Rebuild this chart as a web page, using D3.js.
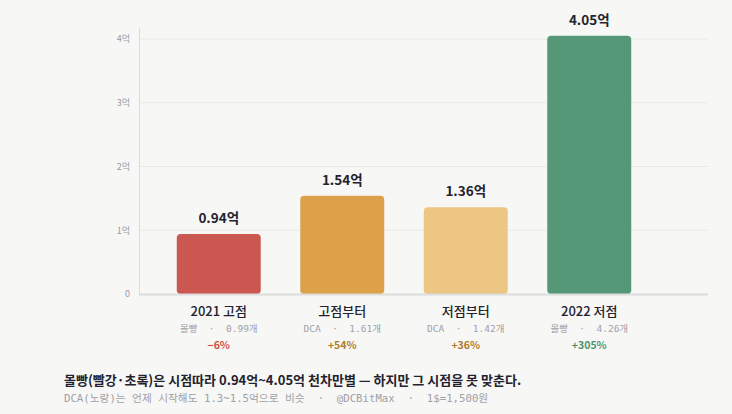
<!DOCTYPE html>
<html>
<head>
<meta charset="utf-8">
<script src="https://cdn.jsdelivr.net/npm/d3@7/dist/d3.min.js"></script>
<style>
  html, body { margin: 0; padding: 0; background: #f7f7f5; }
  svg { display: block; }
</style>
</head>
<body>
<svg id="chart" width="732" height="414"></svg>
<script>
// Data
const categories = ["2021 고점", "고점부터", "저점부터", "2022 저점"];
const values = [0.94, 1.54, 1.36, 4.05];
const subLabels = ["몰빵  ·  0.99개", "DCA  ·  1.61개", "DCA  ·  1.42개", "몰빵  ·  4.26개"];
const returns = ["−6%", "+54%", "+36%", "+305%"];
const yTicks = [0, 1, 2, 3, 4];

const barColors = ["#cb5751", "#dda249", "#eec683", "#549878"];
const returnColors = ["#cf4f48", "#b07a2c", "#b07a2c", "#4f9270"];

const sans = "'Noto Sans CJK KR', 'Noto Sans', sans-serif";
const mono = "'DejaVu Sans Mono', 'Noto Sans CJK KR', monospace";

const svg = d3.select("#chart");

const plot = { left: 139, right: 708, top: 28, bottom: 294 };

const x = d3.scaleBand()
    .domain(categories)
    .range([157, 651])
    .paddingInner(0.32)
    .paddingOuter(0.16);

const y = d3.scaleLinear()
    .domain([0, 4])
    .range([plot.bottom, 39]);

// Gridlines
svg.append("g")
    .selectAll("line")
    .data(yTicks.filter(d => d > 0))
    .enter()
    .append("line")
    .attr("x1", plot.left)
    .attr("x2", plot.right)
    .attr("y1", d => y(d))
    .attr("y2", d => y(d))
    .attr("stroke", "#e9e9e7")
    .attr("stroke-width", 1);

// Y axis
const yAxis = d3.axisLeft(y)
    .tickValues(yTicks)
    .tickSize(0)
    .tickPadding(9)
    .tickFormat(d => d === 0 ? "0" : d + "억");

const yg = svg.append("g")
    .attr("transform", `translate(${plot.left},0)`)
    .call(yAxis);
yg.select(".domain").remove();
yg.selectAll("text")
    .attr("fill", "#9a9aa4")
    .attr("font-family", sans)
    .attr("font-size", "9px");

svg.append("line")
    .attr("x1", plot.left + 0.5)
    .attr("x2", plot.left + 0.5)
    .attr("y1", plot.top)
    .attr("y2", plot.bottom)
    .attr("stroke", "#dcdcdc")
    .attr("stroke-width", 1);

// Bars
svg.append("g")
    .selectAll("rect")
    .data(values)
    .enter()
    .append("rect")
    .attr("x", (d, i) => x(categories[i]))
    .attr("y", d => y(d))
    .attr("width", x.bandwidth())
    .attr("height", d => y(0) - y(d))
    .attr("rx", 4)
    .attr("fill", (d, i) => barColors[i]);

// Baseline
svg.append("line")
    .attr("x1", plot.left)
    .attr("x2", plot.right)
    .attr("y1", plot.bottom + 0.5)
    .attr("y2", plot.bottom + 0.5)
    .attr("stroke", "#dcdcdc")
    .attr("stroke-width", 2);

// Value labels
svg.append("g")
    .selectAll("text")
    .data(values)
    .enter()
    .append("text")
    .attr("x", (d, i) => x(categories[i]) + x.bandwidth() / 2)
    .attr("y", d => y(d) - 11)
    .attr("text-anchor", "middle")
    .attr("font-family", sans)
    .attr("font-weight", "700")
    .attr("font-size", "13.5px")
    .attr("fill", "#23232f")
    .text(d => d.toFixed(2) + "억");

// Category labels
const cx = c => x(c) + x.bandwidth() / 2;

svg.append("g")
    .selectAll("text")
    .data(categories)
    .enter()
    .append("text")
    .attr("x", d => cx(d))
    .attr("y", 316)
    .attr("text-anchor", "middle")
    .attr("font-family", sans)
    .attr("font-weight", "500")
    .attr("font-size", "13px")
    .attr("fill", "#23232f")
    .text(d => d);

svg.append("g")
    .selectAll("text")
    .data(subLabels)
    .enter()
    .append("text")
    .attr("x", (d, i) => cx(categories[i]))
    .attr("y", 332)
    .attr("text-anchor", "middle")
    .attr("font-family", mono)
    .attr("font-size", "9.5px")
    .attr("fill", "#a0a0a8")
    .style("white-space", "pre")
    .text(d => d);

svg.append("g")
    .selectAll("text")
    .data(returns)
    .enter()
    .append("text")
    .attr("x", (d, i) => cx(categories[i]))
    .attr("y", 349)
    .attr("text-anchor", "middle")
    .attr("font-family", sans)
    .attr("font-weight", "700")
    .attr("font-size", "10.5px")
    .attr("fill", (d, i) => returnColors[i])
    .text(d => d);

// Footer
svg.append("text")
    .attr("x", 64)
    .attr("y", 385)
    .attr("font-family", sans)
    .attr("font-weight", "700")
    .attr("font-size", "13px")
    .attr("fill", "#23232f")
    .text("몰빵(빨강·초록)은 시점따라 0.94억~4.05억 천차만별 — 하지만 그 시점을 못 맞춘다.");

svg.append("text")
    .attr("x", 64)
    .attr("y", 402)
    .attr("font-family", mono)
    .attr("font-size", "10.7px")
    .attr("fill", "#a0a0a8")
    .style("white-space", "pre")
    .text("DCA(노랑)는 언제 시작해도 1.3~1.5억으로 비슷  ·  @DCBitMax  ·  1$=1,500원");
</script>
</body>
</html>
